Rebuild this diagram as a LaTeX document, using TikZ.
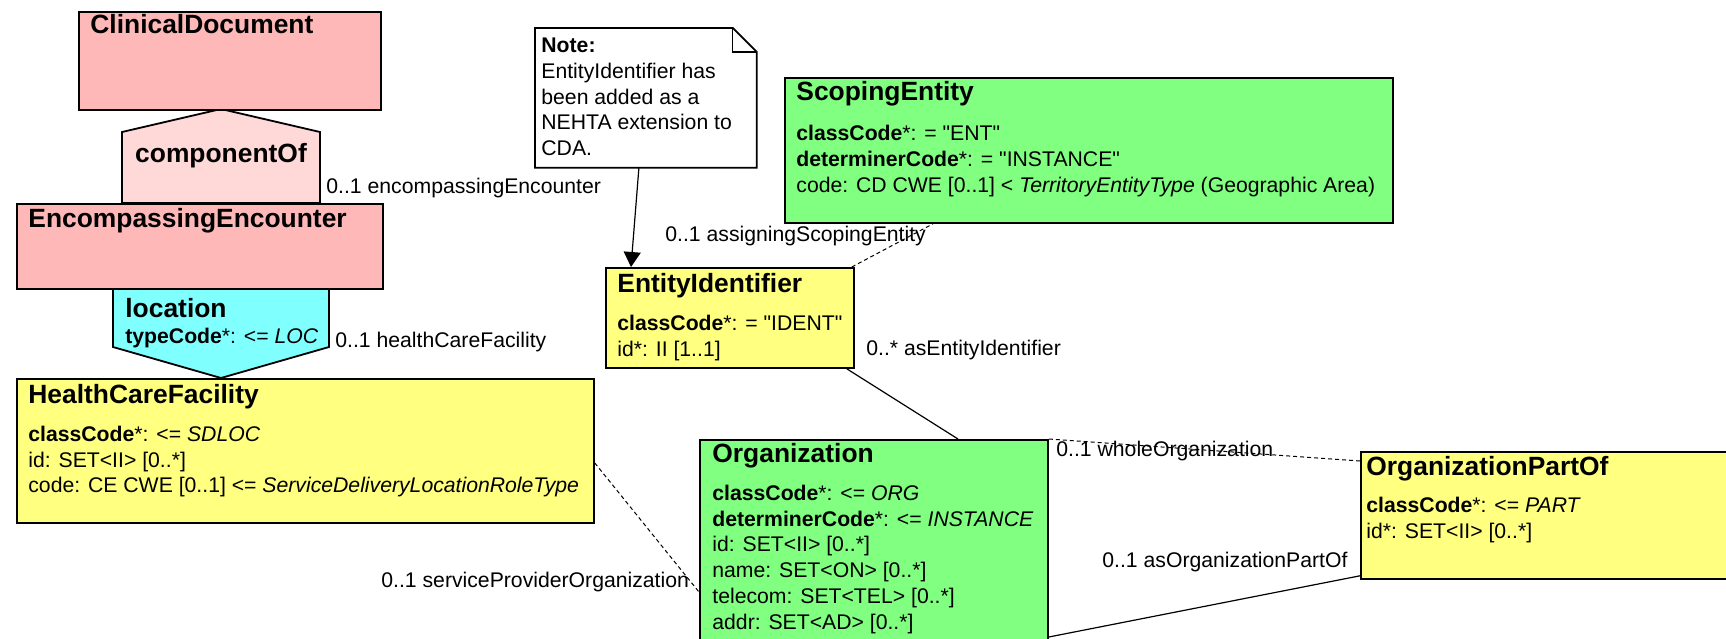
\documentclass[tikz,border=0pt]{standalone}
\usepackage{fontspec}
\setmainfont{Liberation Sans}[Ligatures=TeXOff]
\usetikzlibrary{arrows.meta}

\definecolor{actpink}{RGB}{255,184,184}
\definecolor{relpink}{RGB}{255,216,216}
\definecolor{partcyan}{RGB}{128,255,255}
\definecolor{entgreen}{RGB}{128,255,128}
\definecolor{roleyellow}{RGB}{255,255,128}

\newcommand{\titlefont}{\fontsize{13.2}{15.8}\selectfont\bfseries}
\newcommand{\attrfont}{\fontsize{10.6}{12.9}\selectfont}

\tikzset{
  clsbox/.style={draw, line width=0.9pt, anchor=north west, inner sep=0pt},
  clstitle/.style={anchor=base west, inner sep=0pt, font=\titlefont},
  clsattr/.style={anchor=north west, inner sep=0pt, align=left, font=\attrfont},
  rolename/.style={anchor=base west, inner sep=0pt, font=\attrfont},
  assoc/.style={line width=0.6pt},
  dassoc/.style={line width=0.5pt, dash pattern=on 2pt off 1.5pt},
}

\begin{document}
\begin{tikzpicture}[x=0.5pt, y=-0.5pt]
    % Frame of the page
    \useasboundingbox (0,0) rectangle (1726,638);
    \clip (0,0) rectangle (1726,638);

    % Act relationship and participation shapes
    \filldraw[fill=relpink, line width=0.9pt]
        (122,203) -- (122,132) -- (221,109) -- (320,132) -- (320,203) -- cycle;
    \filldraw[fill=partcyan, line width=0.9pt]
        (113,288) -- (113,347) -- (221,378) -- (329,347) -- (329,288) -- cycle;

    % Acts
    \node[clsbox, fill=actpink, minimum width=151pt, minimum height=49pt] (clindoc) at (78,11) {};
    \node[clstitle] (clindocT) at ([shift={(12,22)}]clindoc.north west) {ClinicalDocument};
    \node[clsbox, fill=actpink, minimum width=183pt, minimum height=42.5pt] (encenc) at (16,203) {};
    \node[clstitle] (encencT) at ([shift={(12,24)}]encenc.north west) {EncompassingEncounter};

    \node[font=\titlefont, anchor=base, inner sep=0pt] (compof) at (221,162) {componentOf};
    \node[clstitle] (locT) at (125,317) {location};
    \node[rolename] (locA) at (125,343) {\textbf{typeCode}*: <= \textit{LOC}};

    % Roles
    \node[clsbox, fill=roleyellow, minimum width=288.5pt, minimum height=72pt] (hcf) at (16,378) {};
    \node[clstitle] (hcfT) at ([shift={(12,25)}]hcf.north west) {HealthCareFacility};
    \node[clsattr] (hcfA) at ([shift={(0,22.5)}]hcfT.base west)
        {\textbf{classCode}*: <= \textit{SDLOC}\\
         id: SET<II> [0..*]\\
         code: CE CWE [0..1] <= \textit{ServiceDeliveryLocationRoleType}};

    \node[clsbox, fill=roleyellow, minimum width=124pt, minimum height=50pt] (entid) at (605,267) {};
    \node[clstitle] (entidT) at ([shift={(12,25)}]entid.north west) {EntityIdentifier};
    \node[clsattr] (entidA) at ([shift={(0,22.5)}]entidT.base west)
        {\textbf{classCode}*: = "IDENT"\\
         id*: II [1..1]};

    \node[clsbox, fill=roleyellow, minimum width=200pt, minimum height=63.5pt] (orgpart) at (1360,451) {};
    \node[clstitle] (orgpartT) at ([shift={(6,24)}]orgpart.north west) {OrganizationPartOf};
    \node[clsattr] (orgpartA) at ([shift={(0,21.5)}]orgpartT.base west)
        {\textbf{classCode}*: <= \textit{PART}\\
         id*: SET<II> [0..*]};

    % Entities
    \node[clsbox, fill=entgreen, minimum width=304pt, minimum height=72.5pt] (scope) at (784,77) {};
    \node[clstitle] (scopeT) at ([shift={(12,23)}]scope.north west) {ScopingEntity};
    \node[clsattr] (scopeA) at ([shift={(0,25)}]scopeT.base west)
        {\textbf{classCode}*: = "ENT"\\
         \textbf{determinerCode}*: = "INSTANCE"\\
         code: CD CWE [0..1] < \textit{TerritoryEntityType} (Geographic Area)};

    \node[clsbox, fill=entgreen, minimum width=174pt, minimum height=110pt] (org) at (699,439) {};
    \node[clstitle] (orgT) at ([shift={(13,23)}]org.north west) {Organization};
    \node[clsattr] (orgA) at ([shift={(0,22.5)}]orgT.base west)
        {\textbf{classCode}*: <= \textit{ORG}\\
         \textbf{determinerCode}*: <= \textit{INSTANCE}\\
         id: SET<II> [0..*]\\
         name: SET<ON> [0..*]\\
         telecom: SET<TEL> [0..*]\\
         addr: SET<AD> [0..*]};

    % Note
    \node[fill=white, anchor=north west, inner sep=0pt, minimum width=110.5pt, minimum height=69.5pt] (note) at (535,28) {};
    \draw[line width=0.9pt] (note.north west) -- ([shift={(-24,0)}]note.north east)
        -- ([shift={(0,24)}]note.north east) -- (note.south east) -- (note.south west) -- cycle;
    \draw[line width=0.6pt] ([shift={(-24,0)}]note.north east) |- ([shift={(0,24)}]note.north east);
    \node[clsattr] (noteA) at ([shift={(6,9.5)}]note.north west)
        {\textbf{Note:}\\
         EntityIdentifier has\\
         been added as a\\
         NEHTA extension to\\
         CDA.};

    % Associations
    \draw[assoc, -{Triangle[length=7.5pt, width=8.5pt]}] ([shift={(-7,0)}]note.south) -- ([shift={(26,0)}]entid.north west);
    \draw[dassoc] ([shift={(-3,0)}]entid.north east) -- ([shift={(149,0)}]scope.south west);
    \draw[assoc] ([shift={(-8,0)}]entid.south east) -- ([shift={(259,0)}]org.north west);
    \draw[dassoc] (org.north east) -- ([shift={(0,10)}]orgpart.north west);
    \draw[assoc] ([shift={(0,198)}]org.north east) -- ([shift={(0,-4)}]orgpart.south west);
    \draw[dassoc] ([shift={(0,85)}]hcf.north east) -- ([shift={(0,153)}]org.north west);

    % Role names
    \node[rolename] (encencR) at (326,193) {0..1 encompassingEncounter};
    \node[rolename] (hcfR) at (335,347) {0..1 healthCareFacility};
    \node[rolename] (scopeR) at (665,241) {0..1 assigningScopingEntity};
    \node[rolename] (entidR) at (866,355) {0..* asEntityIdentifier};
    \node[rolename] (wholeR) at (1056,456) {0..1 wholeOrganization};
    \node[rolename] (orgpartR) at (1102,567) {0..1 asOrganizationPartOf};
    \node[rolename] (spoR) at (381,587) {0..1 serviceProviderOrganization};
\end{tikzpicture}
\end{document}
